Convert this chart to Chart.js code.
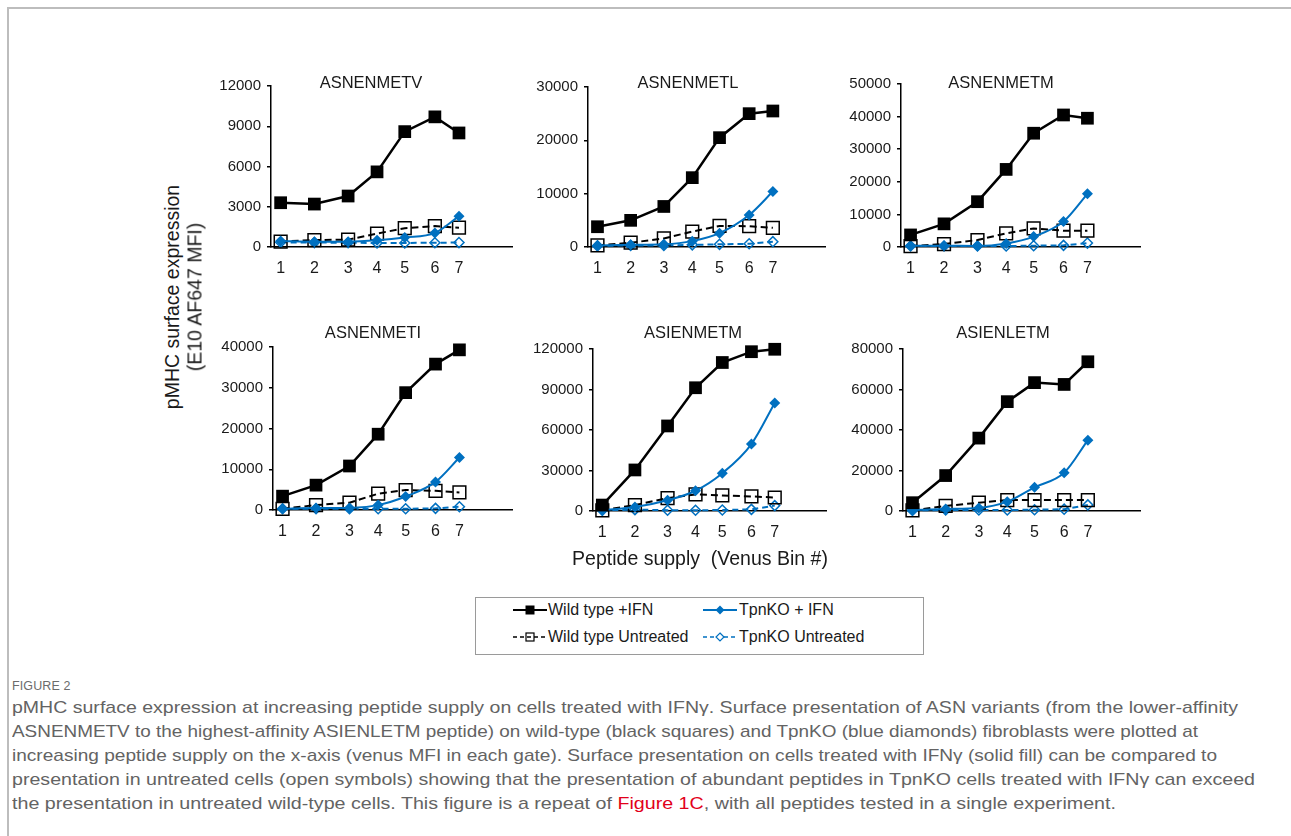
<!DOCTYPE html>
<html>
<head>
<meta charset="utf-8">
<script src="https://cdn.jsdelivr.net/npm/chart.js@4/dist/chart.umd.min.js"></script>
<style>
  body { margin: 0; background: #fff; font-family: 'Liberation Sans', Arial, sans-serif; }
  #page { position: relative; width: 1291px; height: 836px; overflow: hidden; }
  .frame { position: absolute; left: 7px; top: 7px; right: -10px; bottom: -10px;
           border-top: 2px solid #bdbdbd; border-left: 2px solid #bdbdbd; }
  .panel { position: absolute; }
  .ylab { position: absolute; white-space: nowrap; font-size: 19.5px; color: #1a1a1a;
          transform: translate(-50%, -50%) rotate(-90deg); }
  .xlab { position: absolute; white-space: nowrap; font-size: 19.5px; color: #1a1a1a;
          transform: translate(-50%, -50%); }
  .legend { position: absolute; left: 475px; top: 597px; width: 449px; height: 58px;
            border: 1px solid #9a9a9a; box-sizing: border-box; }
  .lg-item { position: absolute; font-size: 16px; color: #1a1a1a; white-space: nowrap;
             transform: translateY(-50%); }
  .lg-sym { position: absolute; transform: translateY(-50%); }
  .fig { position: absolute; left: 12px; top: 679px; font-size: 12.5px; color: #6b6b6b;
         letter-spacing: 0.1px; }
  .cap { position: absolute; left: 12px; font-size: 17px; color: #636363; white-space: nowrap;
         transform-origin: left center; }
  .cap a { color: #e2001a; text-decoration: none; }
</style>
</head>
<body>
<div id="page">
  <div class="frame"></div>
  <div id="panels"></div>

  <div class="ylab" style="left:172px; top:297px;">pMHC surface expression</div>
  <div class="ylab" style="left:195px; top:297px;">(E10 AF647 MFI)</div>
  <div class="xlab" style="left:700px; top:558px;">Peptide supply&nbsp; (Venus Bin #)</div>

  <div class="legend"></div>
  <svg class="lg-sym" style="left:512px; top:610px;" width="36" height="14">
    <line x1="1" y1="7" x2="35" y2="7" stroke="#000" stroke-width="2"/>
    <rect x="13.5" y="2.5" width="9" height="9" fill="#000"/>
  </svg>
  <div class="lg-item" style="left:548px; top:610px;">Wild type +IFN</div>
  <svg class="lg-sym" style="left:702px; top:610px;" width="36" height="14">
    <line x1="1" y1="7" x2="35" y2="7" stroke="#0070c0" stroke-width="2"/>
    <polygon points="18,2.5 22.5,7 18,11.5 13.5,7" fill="#0070c0"/>
  </svg>
  <div class="lg-item" style="left:739px; top:610px;">TpnKO + IFN</div>
  <svg class="lg-sym" style="left:512px; top:637px;" width="36" height="14">
    <line x1="1" y1="7" x2="35" y2="7" stroke="#000" stroke-width="1.6" stroke-dasharray="4,3"/>
    <rect x="14" y="3" width="8" height="8" fill="none" stroke="#000" stroke-width="1.2"/>
  </svg>
  <div class="lg-item" style="left:548px; top:637px;">Wild type Untreated</div>
  <svg class="lg-sym" style="left:702px; top:637px;" width="36" height="14">
    <line x1="1" y1="7" x2="35" y2="7" stroke="#0070c0" stroke-width="1.6" stroke-dasharray="4,3"/>
    <polygon points="18,3 22,7 18,11 14,7" fill="#fff" stroke="#0070c0" stroke-width="1.2"/>
  </svg>
  <div class="lg-item" style="left:739px; top:637px;">TpnKO Untreated</div>

  <div class="fig">FIGURE 2</div>
  <div class="cap" data-w="1226" style="top:698px;">pMHC surface expression at increasing peptide supply on cells treated with IFNγ. Surface presentation of ASN variants (from the lower-affinity</div>
  <div class="cap" data-w="1186" style="top:722px;">ASNENMETV to the highest-affinity ASIENLETM peptide) on wild-type (black squares) and TpnKO (blue diamonds) fibroblasts were plotted at</div>
  <div class="cap" data-w="1205" style="top:746px;">increasing peptide supply on the x-axis (venus MFI in each gate). Surface presentation on cells treated with IFNγ (solid fill) can be compared to</div>
  <div class="cap" data-w="1243" style="top:770px;">presentation in untreated cells (open symbols) showing that the presentation of abundant peptides in TpnKO cells treated with IFNγ can exceed</div>
  <div class="cap" data-w="1104" style="top:794px;">the presentation in untreated wild-type cells. This figure is a repeat of <a>Figure 1C</a>, with all peptides tested in a single experiment.</div>
</div>

<script>
// ── Data ──
const binLabels = ['1', '2', '3', '4', '5', '6', '7'];
// x position of each Venus bin along the axis (axis runs 0..10)
const binX = [0.4, 1.8, 3.2, 4.4, 5.55, 6.8, 7.8];

const peptides = ['ASNENMETV', 'ASNENMETL', 'ASNENMETM', 'ASNENMETI', 'ASIENMETM', 'ASIENLETM'];
const yMax  = [12000, 30000, 50000, 40000, 120000, 80000];
const yStep = [3000, 10000, 10000, 10000, 30000, 20000];

const seriesNames = ['Wild type +IFN', 'TpnKO + IFN', 'Wild type Untreated', 'TpnKO Untreated'];

// one row per peptide, one value per bin
const wtIfn = [
  [3300, 3200, 3800, 5600, 8600, 9700, 8500],
  [3800, 5000, 7600, 13000, 20500, 25000, 25500],
  [3700, 7100, 13900, 23800, 34900, 40500, 39500],
  [3400, 6100, 10800, 18600, 28800, 35800, 39300],
  [4400, 30400, 63000, 91300, 110000, 118000, 119800],
  [4100, 17500, 36000, 54000, 63400, 62500, 73700],
];
const tpnIfn = [
  [450, 400, 400, 500, 700, 1050, 2300],
  [300, 400, 500, 1100, 2600, 6000, 10400],
  [400, 400, 300, 1100, 3200, 7800, 16300],
  [300, 500, 500, 1200, 3300, 6900, 12900],
  [700, 3000, 8000, 15000, 28000, 49600, 80000],
  [500, 1000, 1500, 4600, 11700, 18900, 35000],
];
const wtUnt = [
  [400, 520, 550, 1000, 1400, 1560, 1440],
  [300, 800, 1600, 2900, 3950, 3900, 3600],
  [300, 900, 2150, 4200, 5700, 5000, 5000],
  [300, 1200, 1800, 4000, 4900, 4700, 4300],
  [500, 4400, 9500, 12300, 11500, 10800, 10000],
  [300, 2500, 4100, 5400, 5400, 5400, 5400],
];
const tpnUnt = [
  [350, 330, 320, 300, 300, 320, 330],
  [200, 300, 300, 400, 500, 600, 1000],
  [300, 300, 300, 300, 400, 500, 1200],
  [300, 300, 300, 300, 300, 400, 800],
  [500, 1000, 600, 600, 700, 1200, 4000],
  [300, 500, 500, 500, 600, 900, 3000],
];

// ── Panel placement on the page (pixels) ──
const panels = [
  { ax: 271, ae: 512,  yt: 86,  yb: 247, ty: 83 },
  { ax: 588, ae: 825,  yt: 87,  yb: 247, ty: 83 },
  { ax: 901, ae: 1140, yt: 84,  yb: 247, ty: 83 },
  { ax: 273, ae: 512,  yt: 347, yb: 510, ty: 333 },
  { ax: 593, ae: 826,  yt: 349, yb: 511, ty: 333 },
  { ax: 903, ae: 1140, yt: 349, yb: 511, ty: 333 },
];

const BLUE  = '#0070c0';
const FONT  = "'Liberation Sans', Arial, sans-serif";
const YAXW  = 80, TOPPAD = 40, XAXH = 30, RPAD = 12;

// panel title drawn inside the canvas, like the original overlay title
const panelTitle = {
  id: 'panelTitle',
  afterDraw(chart, args, opts) {
    const ctx = chart.ctx;
    ctx.save();
    ctx.font = `16.5px ${FONT}`;
    ctx.fillStyle = '#1a1a1a';
    ctx.textAlign = 'center';
    ctx.textBaseline = 'middle';
    ctx.fillText(opts.text, chart.chartArea.left + 100, opts.y);
    ctx.restore();
  },
};

function pts(values) {
  return binX.map((x, i) => ({ x, y: values[i] }));
}

// ── Build one panel ──
function makePanel(i) {
  const p = panels[i];
  const left = p.ax - YAXW;
  const top  = p.yt - TOPPAD;
  const w = p.ae - left + RPAD;
  const h = p.yb - top + XAXH;

  const wrap = document.createElement('div');
  wrap.className = 'panel';
  wrap.style.cssText = `left:${left}px; top:${top}px; width:${w}px; height:${h}px;`;
  const cv = document.createElement('canvas');
  wrap.appendChild(cv);
  document.getElementById('panels').appendChild(wrap);

  new Chart(cv, {
    type: 'line',
    data: {
      datasets: [
        { label: seriesNames[0], data: pts(wtIfn[i]), borderColor: '#000', backgroundColor: '#000',
          borderWidth: 2.5, pointStyle: 'rect', pointRadius: 9, pointBorderWidth: 0 },
        { label: seriesNames[1], data: pts(tpnIfn[i]), borderColor: BLUE, backgroundColor: BLUE,
          borderWidth: 2, pointStyle: 'rectRot', pointRadius: 5.5, pointBorderWidth: 0,
          cubicInterpolationMode: 'monotone' },
        { label: seriesNames[2], data: pts(wtUnt[i]), borderColor: '#000', backgroundColor: 'rgba(0,0,0,0)',
          borderWidth: 2, borderDash: [7, 4], pointStyle: 'rect', pointRadius: 9, pointBorderWidth: 1.5 },
        { label: seriesNames[3], data: pts(tpnUnt[i]), borderColor: BLUE, backgroundColor: 'rgba(0,0,0,0)',
          borderWidth: 2, borderDash: [6, 4], pointStyle: 'rectRot', pointRadius: 5, pointBorderWidth: 1.5 },
      ].map(d => Object.assign(d, { clip: false, fill: false, pointHoverRadius: d.pointRadius })),
    },
    options: {
      responsive: true,
      maintainAspectRatio: false,
      animation: false,
      events: [],
      layout: { padding: { left: 0, top: TOPPAD, right: RPAD, bottom: 0 } },
      plugins: {
        legend:  { display: false },
        tooltip: { enabled: false },
        panelTitle: { text: peptides[i], y: p.ty - top },
      },
      scales: {
        x: {
          type: 'linear', min: 0, max: 10,
          afterBuildTicks: s => { s.ticks = binX.map(v => ({ value: v })); },
          afterFit: s => { s.height = XAXH; },
          ticks: { callback: (v, k) => binLabels[k], autoSkip: false, maxRotation: 0, minRotation: 0,
                   padding: 4, color: '#1a1a1a', font: { family: FONT, size: 16 } },
          grid:   { display: false },
          border: { display: true, color: '#000', width: 1.5 },
        },
        y: {
          min: 0, max: yMax[i],
          afterFit: s => { s.width = YAXW; },
          ticks: { stepSize: yStep[i], callback: v => String(v), padding: 6,
                   color: '#1a1a1a', font: { family: FONT, size: 15 } },
          grid:   { drawOnChartArea: false, drawTicks: true, tickLength: 4, color: '#000', lineWidth: 1.5 },
          border: { display: true, color: '#000', width: 1.5 },
        },
      },
    },
    plugins: [panelTitle],
  });
}

panels.forEach((_, i) => makePanel(i));

// ── Fit caption lines to their measured widths ──
document.querySelectorAll('.cap').forEach(el => {
  const target = +el.dataset.w;
  const actual = el.getBoundingClientRect().width;
  el.style.transform = `scaleX(${target / actual})`;
});
</script>
</body>
</html>
